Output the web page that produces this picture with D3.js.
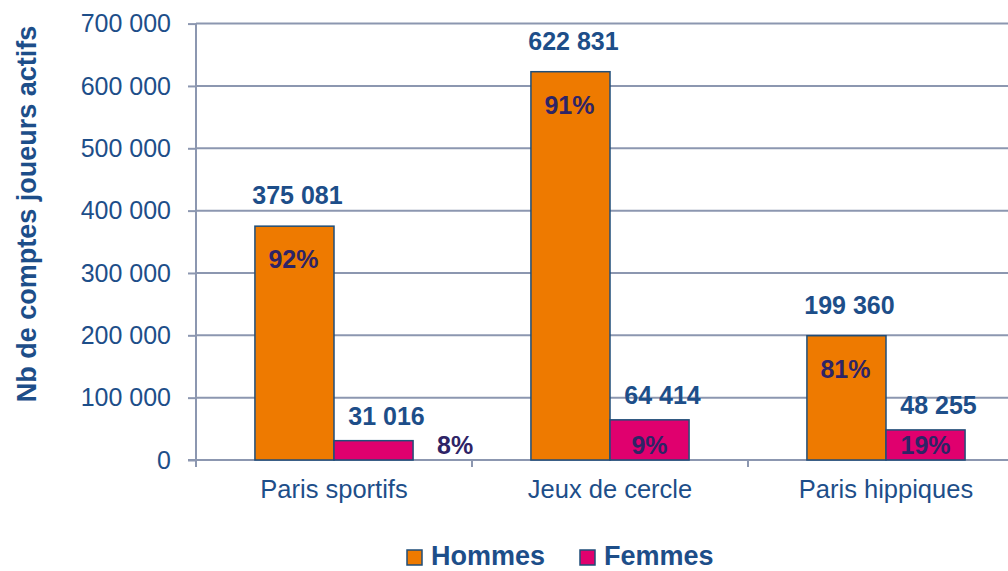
<!DOCTYPE html>
<html>
<head>
<meta charset="utf-8">
<script src="https://cdn.jsdelivr.net/npm/d3@7"></script>
<style>
  html, body { margin: 0; padding: 0; background: #fff; }
  svg { display: block; font-family: "Liberation Sans", Arial, sans-serif; }
</style>
</head>
<body>
<svg id="chart" width="1008" height="571"></svg>
<script>
const categories = ["Paris sportifs", "Jeux de cercle", "Paris hippiques"];
const series = ["Hommes", "Femmes"];
const hommes = [375081, 622831, 199360];
const femmes = [31016, 64414, 48255];
const hommesPct = ["92%", "91%", "81%"];
const femmesPct = ["8%", "9%", "19%"];
const yTicks = [0, 100000, 200000, 300000, 400000, 500000, 600000, 700000];
const yTitle = "Nb de comptes joueurs actifs";

const colors = { Hommes: "#EE7A00", Femmes: "#E0006E" };
const textBlue = "#1D4E89";
const pctColor = "#2E2466";
const gridColor = "#8C97B0";
const barStroke = "#1F4E79";

const svg = d3.select("#chart");
const W = 1008, H = 571;
const plotLeft = 196, plotRight = 1024, plotTop = 23.6, plotBottom = 460;

const x0 = d3.scaleBand().domain(categories).range([plotLeft, plotRight]).padding(0);
const bw = x0.bandwidth();
const x1 = d3.scaleBand().domain(series).range([bw * 0.2135, bw * 0.7865]).padding(0);
const y = d3.scaleLinear().domain([0, 700000]).range([plotBottom, plotTop]);

const fmt = v => d3.format(",")(v).replace(/,/g, " ");

// gridlines
svg.append("g").selectAll("line").data(yTicks.filter(d => d > 0)).join("line")
  .attr("x1", plotLeft).attr("x2", W)
  .attr("y1", d => y(d)).attr("y2", d => y(d))
  .attr("stroke", gridColor).attr("stroke-width", 2);

// y axis
const yAxis = svg.append("g").attr("transform", `translate(${plotLeft},0)`)
  .call(d3.axisLeft(y).tickValues(yTicks).tickSize(8).tickPadding(17).tickFormat(fmt));
yAxis.select(".domain").attr("stroke", gridColor).attr("stroke-width", 2)
  .attr("d", `M0,${y(700000)}V${plotBottom + 6}`);
yAxis.selectAll(".tick line").attr("stroke", gridColor).attr("stroke-width", 2);
yAxis.selectAll(".tick text").attr("fill", textBlue).attr("font-size", 25)
  .attr("font-family", "Liberation Sans, Arial, sans-serif").attr("dy", "0.33em");

// x axis baseline and ticks
const xg = svg.append("g");
xg.append("line").attr("x1", plotLeft - 8).attr("x2", W).attr("y1", plotBottom).attr("y2", plotBottom)
  .attr("stroke", gridColor).attr("stroke-width", 2);
xg.selectAll("line.xt").data(categories).join("line").attr("class", "xt")
  .attr("x1", d => x0(d)).attr("x2", d => x0(d))
  .attr("y1", plotBottom).attr("y2", plotBottom + 7)
  .attr("stroke", gridColor).attr("stroke-width", 2);
xg.selectAll("text").data(categories).join("text")
  .attr("x", d => x0(d) + bw / 2).attr("y", 498)
  .attr("text-anchor", "middle").attr("fill", textBlue).attr("font-size", 25.5)
  .text(d => d);

// bars
const rows = categories.map((c, i) => ({ c, i, Hommes: hommes[i], Femmes: femmes[i] }));
const groups = svg.append("g").selectAll("g").data(rows).join("g")
  .attr("transform", d => `translate(${x0(d.c)},0)`);

groups.selectAll("rect").data(d => series.map(s => ({ s, v: d[s] }))).join("rect")
  .attr("x", d => x1(d.s)).attr("width", x1.bandwidth())
  .attr("y", d => y(d.v)).attr("height", d => plotBottom - y(d.v))
  .attr("fill", d => colors[d.s]).attr("stroke", barStroke).attr("stroke-width", 1.5);

// value labels
groups.append("text")
  .attr("x", x1("Hommes") + x1.bandwidth() / 2 + 3)
  .attr("y", d => y(d.Hommes) - 22)
  .attr("text-anchor", "middle").attr("font-weight", "bold").attr("font-size", 25)
  .attr("fill", textBlue).text(d => fmt(d.Hommes));
groups.append("text")
  .attr("x", x1("Femmes") + x1.bandwidth() / 2 + 13)
  .attr("y", d => y(d.Femmes) - 16)
  .attr("text-anchor", "middle").attr("font-weight", "bold").attr("font-size", 25)
  .attr("fill", textBlue).text(d => fmt(d.Femmes));

// percentage labels
groups.append("text")
  .attr("x", x1("Hommes") + x1.bandwidth() / 2 - 1)
  .attr("y", d => y(d.Hommes) + 42)
  .attr("text-anchor", "middle").attr("font-weight", "bold").attr("font-size", 25)
  .attr("fill", pctColor).text(d => hommesPct[d.i]);
groups.append("text")
  .attr("x", d => (plotBottom - y(d.Femmes) < 25)
      ? x1("Femmes") + x1.bandwidth() + 42
      : x1("Femmes") + x1.bandwidth() / 2)
  .attr("y", plotBottom - 6)
  .attr("text-anchor", "middle").attr("font-weight", "bold").attr("font-size", 25)
  .attr("fill", pctColor).text(d => femmesPct[d.i]);

// y title
svg.append("text")
  .attr("transform", `translate(36,${(20 + 408) / 2}) rotate(-90)`)
  .attr("text-anchor", "middle").attr("font-weight", "bold").attr("font-size", 27)
  .attr("fill", textBlue).text(yTitle);

// legend
const legendX = [407, 580];
const lg = svg.append("g").selectAll("g").data(series).join("g")
  .attr("transform", (d, i) => `translate(${legendX[i]},550)`);
lg.append("rect").attr("width", 15).attr("height", 15)
  .attr("fill", d => colors[d]).attr("stroke", barStroke).attr("stroke-width", 1.5);
lg.append("text").attr("x", 24).attr("y", 15)
  .attr("font-weight", "bold").attr("font-size", 27).attr("fill", textBlue).text(d => d);
</script>
</body>
</html>
